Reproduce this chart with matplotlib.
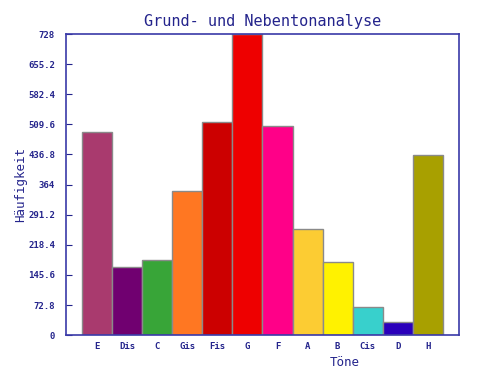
import matplotlib
matplotlib.use("Agg")
from matplotlib import pyplot as plt

toene = ["E", "Dis", "C", "Gis", "Fis", "G", "F", "A", "B", "Cis", "D", "H"]
haeufigkeit = [491, 164, 181, 348, 515, 728, 505, 256, 177, 68, 31, 435]
farben = ["#a93a6e", "#700070", "#38a538", "#ff7722", "#cc0000", "#ee0000",
          "#ff0088", "#fccc33", "#fff200", "#38d0cc", "#2a00bb", "#a8a000"]
y_ticks = [0, 72.8, 145.6, 218.4, 291.2, 364, 436.8, 509.6, 582.4, 655.2, 728]

navy = "#24248c"
plt.rcParams["font.family"] = ["DejaVu Sans Mono"]

fig = plt.figure(figsize=(4.8, 3.8), dpi=100)
ax = fig.add_axes([0.1375, 0.118, 0.8185, 0.7925])

x = range(len(toene))
ax.bar(x, haeufigkeit, width=1.0, color=farben, edgecolor="#8a8a8a", linewidth=1.0)

ax.set_xlim(-1.03, 12.03)
ax.set_ylim(0, 728)
ax.set_yticks(y_ticks)
ax.set_yticklabels([("%g" % v) for v in y_ticks], fontsize=6.5, color=navy, fontweight="bold")
ax.set_xticks(list(x))
ax.set_xticklabels(toene, fontsize=6.5, color=navy, fontweight="bold")
ax.tick_params(axis="y", direction="in", length=4, color=navy, pad=8)
ax.tick_params(axis="x", length=0, pad=5)

for s in ax.spines.values():
    s.set_color("#3a3aa8")
    s.set_linewidth(1.2)

ax.set_title("Grund- und Nebentonanalyse", fontsize=11, color=navy, pad=6)
ax.set_ylabel("Häufigkeit", fontsize=9, color=navy)
ax.yaxis.set_label_coords(-0.1, 0.5)
ax.set_xlabel("Töne", fontsize=9, color=navy)
ax.xaxis.set_label_coords(0.71, -0.07)

fig.savefig("out.png", dpi=100)
